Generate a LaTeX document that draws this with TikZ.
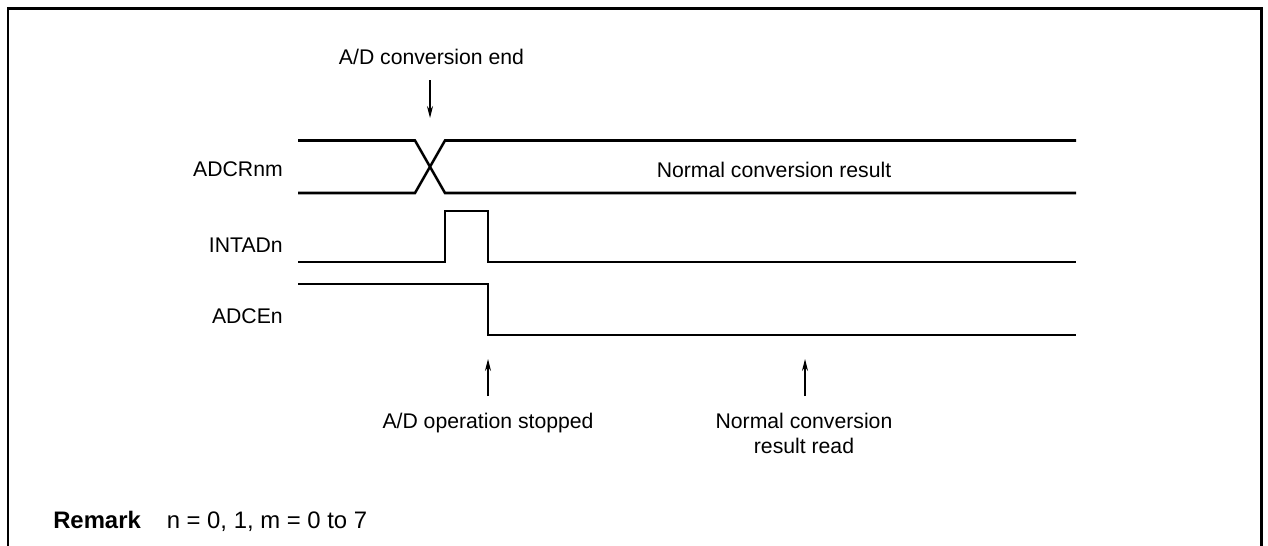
\documentclass[tikz,border=0pt]{standalone}
\usepackage{fontspec}
\setmainfont{Liberation Sans}
\usetikzlibrary{arrows.meta}
\begin{document}
\begin{tikzpicture}[x=0.75pt,y=-0.75pt,
  wave/.style={line width=1.9pt,line join=miter},
  frame/.style={line width=1.8pt},
  pointer/.style={line width=0.8pt,-{Stealth[length=9pt,width=4.5pt]}},
  lbl/.style={inner sep=0pt,font=\fontsize{15.9}{19}\selectfont},
  rem/.style={inner sep=0pt,font=\fontsize{17.9}{21}\selectfont},
]
\useasboundingbox (0,0) rectangle (1268,546);
% frame (open at bottom)
\draw[frame] (8,546) -- (8,8.5) -- (1261.5,8.5) -- (1261.5,546);
% signal labels
\node[lbl,anchor=base east] (adcr) at (283,176) {ADCRnm};
\node[lbl,anchor=base east] (intad) at (283,252) {INTADn};
\node[lbl,anchor=base east] (adce) at (283,323) {ADCEn};
% ADCRnm waveform
\draw[wave] (298,140.5) -- (415,140.5) -- (445,193) -- (1076,193);
\draw[wave] (298,193) -- (415,193) -- (445,140.5) -- (1076,140.5);
\node[lbl,anchor=base] (ncr) at (774,177) {Normal conversion result};
% INTADn waveform
\draw[wave] (298,262) -- (445,262) -- (445,211) -- (488,211) -- (488,262) -- (1076,262);
% ADCEn waveform
\draw[wave] (298,284) -- (488,284) -- (488,335) -- (1076,335);
% top annotation
\node[lbl,anchor=base] (convend) at (431.5,64) {A/D conversion end};
\coordinate (a1s) at (430,80);
\coordinate (a1e) at (430,118);
\draw[pointer] (a1s) -- (a1e);
% bottom annotations
\node[lbl,anchor=base] (opstop) at (488,428) {A/D operation stopped};
\node[lbl,anchor=base] (nread) at (804,428) {Normal conversion};
\node[lbl,anchor=base] (nread2) at (804,453) {result read};
\coordinate (a2s) at (488,396);
\coordinate (a2e) at (488,359);
\draw[pointer] (a2s) -- (a2e);
\coordinate (a3s) at (805,396);
\coordinate (a3e) at (805,359);
\draw[pointer] (a3s) -- (a3e);
% remark
\node[rem,anchor=base west] (remark) at (53,528) {\bfseries Remark};
\node[rem,anchor=base west] (remtxt) at (166.5,528) {n = 0, 1, m = 0 to 7};
\end{tikzpicture}
\end{document}
